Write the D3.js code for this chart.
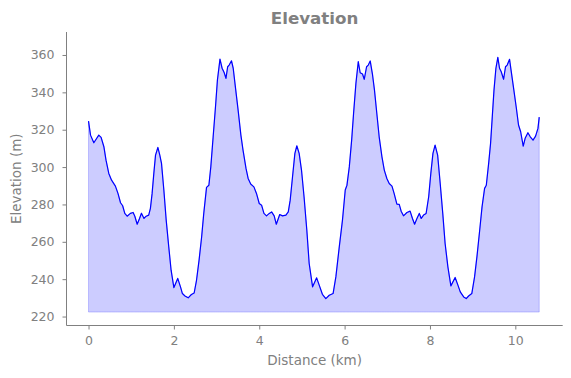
<!DOCTYPE html>
<html>
<head>
<meta charset="utf-8">
<script src="https://cdn.jsdelivr.net/npm/d3@7"></script>
<style>
  html, body { margin: 0; padding: 0; background: #fff; }
  svg { display: block; font-family: "DejaVu Sans", sans-serif; }
</style>
</head>
<body>
<svg id="chart" width="571" height="378"></svg>
<script>
const distanceKm = [0,0.047,0.124,0.155,0.24,0.295,0.36,0.41,0.475,0.54,0.63,0.69,0.75,0.80,0.85,0.905,0.98,1.045,1.085,1.14,1.195,1.24,1.30,1.35,1.41,1.45,1.49,1.53,1.57,1.625,1.67,1.71,1.765,1.82,1.88,1.935,2.0,2.09,2.155,2.20,2.26,2.335,2.41,2.475,2.53,2.59,2.65,2.70,2.765,2.82,2.865,2.92,2.975,3.02,3.08,3.13,3.18,3.22,3.26,3.295,3.35,3.39,3.445,3.505,3.57,3.62,3.69,3.74,3.80,3.875,3.935,4.0,4.055,4.11,4.17,4.235,4.29,4.35,4.40,4.48,4.545,4.625,4.68,4.725,4.78,4.835,4.88,4.935,4.99,5.05,5.115,5.17,5.25,5.345,5.405,5.48,5.56,5.64,5.73,5.795,5.875,5.95,6.015,6.055,6.11,6.165,6.21,6.265,6.32,6.365,6.42,6.46,6.515,6.555,6.6,6.655,6.70,6.755,6.81,6.875,6.93,6.99,7.045,7.11,7.16,7.225,7.28,7.325,7.38,7.46,7.535,7.59,7.64,7.695,7.75,7.795,7.85,7.91,7.97,8.02,8.07,8.12,8.18,8.24,8.30,8.355,8.42,8.49,8.59,8.655,8.71,8.79,8.85,8.905,8.98,9.045,9.10,9.165,9.22,9.28,9.32,9.375,9.42,9.46,9.50,9.545,9.59,9.63,9.67,9.725,9.77,9.81,9.865,9.90,9.96,10.02,10.075,10.125,10.185,10.23,10.295,10.35,10.415,10.475,10.53,10.56];
const elevationM = [324.6,317.1,313.0,314.1,317.1,315.9,310.9,303.7,296.6,293.0,289.8,285.9,280.9,279.3,275.2,273.7,275.2,275.7,273.7,269.4,272.5,275.3,272.5,273.7,274.3,277.9,285.9,296.6,306.4,310.5,306.4,302.0,287.7,271.6,257.3,244.8,235.5,240.4,235.9,232.3,231.0,230.0,231.8,232.6,239.4,250.2,262.6,275.2,289.1,290.3,300.1,316.2,332.3,346.6,357.8,352.9,350.5,347.5,353.7,354.6,356.9,352.9,342.1,330.5,317.1,309.1,299.3,293.9,290.9,289.4,285.9,280.5,279.6,275.2,273.9,275.2,276.0,273.9,269.4,274.6,273.9,274.3,276.0,282.3,294.8,307.3,311.4,307.3,298.4,284.1,266.2,248.4,235.9,240.7,236.8,231.9,229.6,231.4,232.3,241.2,257.3,271.6,287.7,290.3,300.1,314.4,328.7,344.8,356.4,350.5,349.8,347.0,353.7,354.6,356.8,349.3,341.2,328.7,316.2,305.5,298.4,293.9,291.2,289.8,285.9,280.2,280.0,276.4,273.9,275.7,276.4,272.5,269.4,272.5,275.2,272.5,274.3,275.2,284.1,296.6,307.3,311.8,306.4,291.2,275.2,259.1,246.6,236.4,240.9,236.8,233.2,230.5,229.6,231.0,232.3,241.2,251.9,266.2,278.7,288.6,290.3,302.0,312.7,326.9,341.2,352.9,358.7,352.9,351.0,347.0,353.7,354.6,357.7,351.9,342.1,332.3,322.5,318.9,311.2,315.4,318.4,316.2,314.4,316.6,320.7,326.7];
const baseElevation = 222.4;
const xTicks = [0, 2, 4, 6, 8, 10];
const yTicks = [220, 240, 260, 280, 300, 320, 340, 360];
const titleText = "Elevation";
const xLabel = "Distance (km)";
const yLabel = "Elevation (m)";

const data = distanceKm.map((d, i) => ({ d, e: elevationM[i] }));

const svg = d3.select("#chart");
const gray = "#808080";
const mLeft = 66.5, mRight = 562.7, mTop = 32, mBottom = 325.5;

const x = d3.scaleLinear().domain([-0.516, 11.11]).range([mLeft, mRight]);
const y = d3.scaleLinear().domain([215.2, 372.3]).range([mBottom, mTop]);

// filled area
const area = d3.area().x(p => x(p.d)).y0(y(baseElevation)).y1(p => y(p.e));
svg.append("path").datum(data).attr("d", area)
  .attr("fill", "blue").attr("fill-opacity", 0.2)
  .attr("stroke", "blue").attr("stroke-opacity", 0.2).attr("stroke-width", 1);

// line
const line = d3.line().x(p => x(p.d)).y(p => y(p.e));
svg.append("path").datum(data).attr("d", line)
  .attr("fill", "none").attr("stroke", "blue").attr("stroke-width", 1.2)
  .attr("stroke-linejoin", "round");

// axes
const xAxis = d3.axisBottom(x).tickValues(xTicks).tickFormat(d3.format("d")).tickSize(4).tickPadding(6.5);
const gx = svg.append("g").attr("transform", `translate(0,${mBottom})`).call(xAxis);
const yAxis = d3.axisLeft(y).tickValues(yTicks).tickFormat(d3.format("d")).tickSize(4).tickPadding(8);
const gy = svg.append("g").attr("transform", `translate(${mLeft},0)`).call(yAxis);

[gx, gy].forEach(g => {
  g.select(".domain").remove();
  g.selectAll(".tick line").attr("stroke", gray).attr("stroke-width", 1);
  g.selectAll(".tick text").attr("fill", gray).attr("font-size", "12.5px")
    .attr("font-family", "DejaVu Sans, sans-serif");
});

// spines
svg.append("line").attr("x1", mLeft).attr("x2", mLeft).attr("y1", mTop).attr("y2", mBottom)
  .attr("stroke", gray).attr("stroke-width", 1);
svg.append("line").attr("x1", mLeft).attr("x2", mRight).attr("y1", mBottom).attr("y2", mBottom)
  .attr("stroke", gray).attr("stroke-width", 1);

// title and labels
svg.append("text").attr("x", (mLeft + mRight) / 2).attr("y", 24.3)
  .attr("text-anchor", "middle").attr("font-weight", "bold").attr("font-size", "16.7px")
  .attr("fill", gray).text(titleText);
svg.append("text").attr("x", (mLeft + mRight) / 2).attr("y", 365)
  .attr("text-anchor", "middle").attr("font-size", "13.5px").attr("fill", gray).text(xLabel);
svg.append("text").attr("transform", `translate(21,${(mTop + mBottom) / 2}) rotate(-90)`)
  .attr("text-anchor", "middle").attr("font-size", "13.5px").attr("fill", gray).text(yLabel);
</script>
</body>
</html>
